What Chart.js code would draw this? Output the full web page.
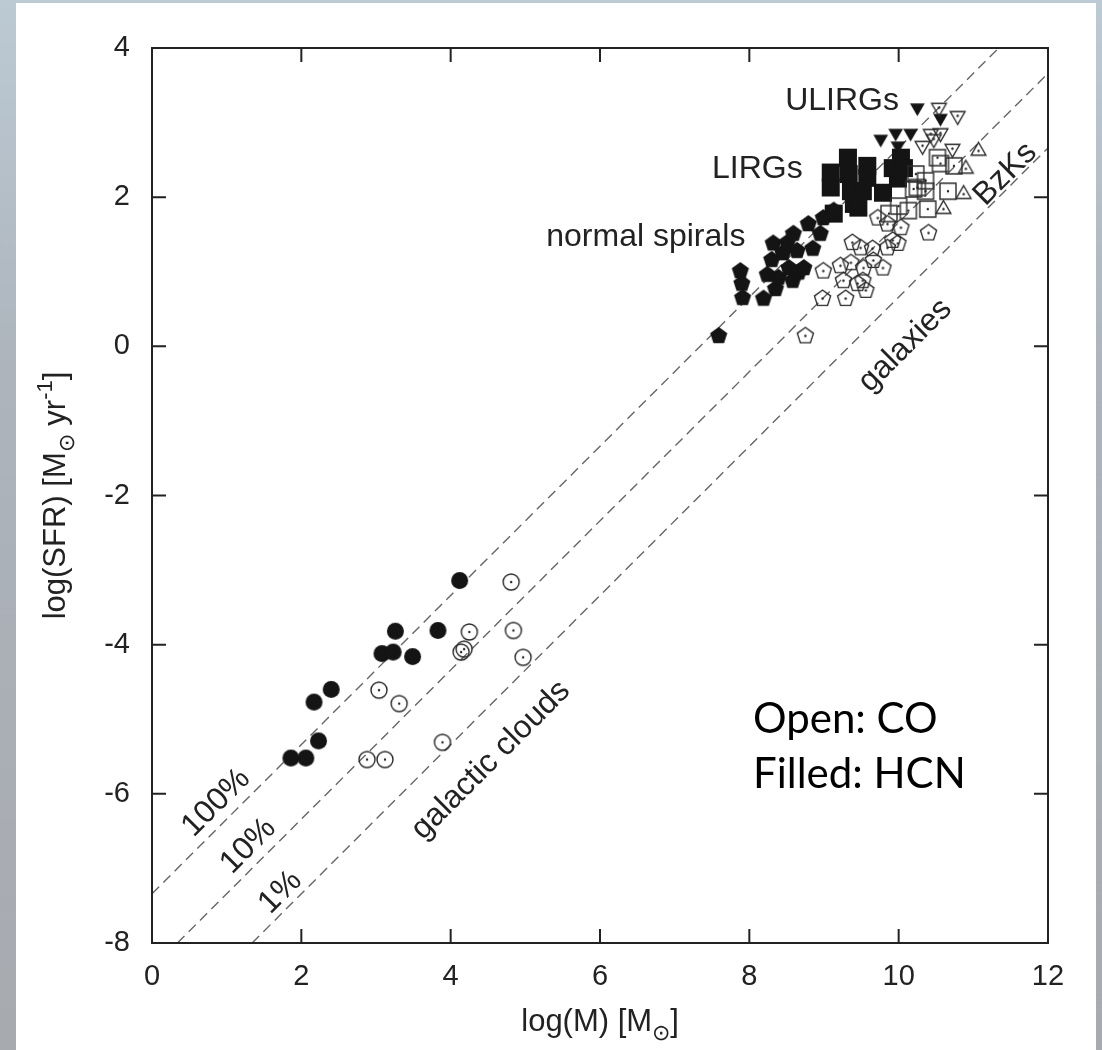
<!DOCTYPE html>
<html>
<head>
<meta charset="utf-8">
<script src="https://cdn.jsdelivr.net/npm/chart.js@4.4.1/dist/chart.umd.min.js"></script>
<style>
  html, body { margin: 0; padding: 0; }
  body {
    width: 1102px; height: 1050px; overflow: hidden; position: relative;
    background: linear-gradient(180deg, #bccad4 0%, #adb4bc 35%, #a7aaaf 100%);
  }
  #panel { position: absolute; left: 16px; top: 3px; width: 1080px; height: 1047px; background: #fff; }
  #sfrCanvas { position: absolute; left: 0; top: 0; }
</style>
</head>
<body>
<div id="panel"></div>
<canvas id="sfrCanvas" width="1102" height="1050"></canvas>
<script>
// tick values
const xTickValues = [0, 2, 4, 6, 8, 10, 12];
const yTickValues = [-8, -6, -4, -2, 0, 2, 4];

// galactic clouds
const cloudsHcnX = [1.86, 2.06, 2.23, 2.17, 2.40, 3.08, 3.23, 3.26, 3.49, 3.83, 4.12];
const cloudsHcnY = [-5.52, -5.52, -5.29, -4.77, -4.60, -4.12, -4.10, -3.82, -4.16, -3.81, -3.14];
const cloudsCoX = [2.88, 3.12, 3.89, 3.04, 3.31, 4.14, 4.18, 4.25, 4.84, 4.97, 4.81];
const cloudsCoY = [-5.54, -5.54, -5.31, -4.61, -4.79, -4.10, -4.06, -3.83, -3.81, -4.17, -3.16];

// normal spirals
const spiralsHcnX = [7.59, 7.88, 7.90, 7.91, 8.19, 8.24, 8.30, 8.32, 8.35, 8.39, 8.45, 8.51, 8.53, 8.58, 8.59, 8.64, 8.66, 8.73, 8.79, 8.85, 8.95, 8.99, 9.13];
const spiralsHcnY = [0.14, 1.01, 0.84, 0.65, 0.64, 0.96, 1.16, 1.38, 0.77, 0.92, 1.25, 1.39, 1.05, 0.88, 1.51, 1.28, 0.99, 1.05, 1.64, 1.31, 1.51, 1.72, 1.82];
const spiralsCoX = [8.75, 8.99, 8.98, 9.29, 9.26, 9.38, 9.49, 9.65, 9.66, 9.79, 9.53, 9.52, 9.56, 9.45, 9.85, 9.99, 10.03, 9.85, 9.72, 9.92, 10.40, 9.36, 9.22];
const spiralsCoY = [0.14, 1.01, 0.64, 0.64, 0.88, 1.39, 1.32, 1.31, 1.15, 1.05, 1.05, 0.88, 0.75, 0.84, 1.32, 1.38, 1.59, 1.64, 1.72, 1.42, 1.52, 1.12, 1.08];

// LIRGs
const lirgsHcnX = [9.09, 9.09, 9.32, 9.33, 9.36, 9.40, 9.13, 9.58, 9.58, 9.52, 9.46, 9.79, 9.92, 10.03, 10.07, 9.99];
const lirgsHcnY = [2.33, 2.13, 2.53, 2.31, 2.08, 1.91, 1.78, 2.42, 2.26, 2.08, 1.86, 2.06, 2.39, 2.53, 2.39, 2.25];
const lirgsCoX = [10.52, 10.56, 10.74, 10.23, 10.25, 10.36, 10.20, 10.66, 9.87, 10.00, 10.13, 10.39, 10.36];
const lirgsCoY = [2.53, 2.45, 2.42, 2.31, 2.13, 2.08, 2.11, 2.08, 1.78, 1.88, 1.82, 1.84, 2.22];

// ULIRGs
const ulirgsHcnX = [10.25, 10.56, 9.76, 9.96, 10.16, 9.99];
const ulirgsHcnY = [3.20, 3.06, 2.78, 2.86, 2.86, 2.69];
const ulirgsCoX = [10.54, 10.79, 10.43, 10.56, 10.32, 10.72, 10.47];
const ulirgsCoY = [3.20, 3.09, 2.85, 2.86, 2.69, 2.65, 2.78];

// BzK galaxies
const bzkCoX = [11.07, 10.90, 10.87, 10.60];
const bzkCoY = [2.62, 2.38, 2.04, 1.84];

// star formation efficiency lines (end points)
const line100X = [0, 11.34];
const line100Y = [-7.34, 4];
const line10X = [0.34, 12];
const line10Y = [-8, 3.66];
const line1X = [1.34, 12];
const line1Y = [-8, 2.66];

const annotations = [
  { text: "ULIRGs", x: 8.48, y: 3.17, angle: 0, align: "left" },
  { text: "LIRGs", x: 7.50, y: 2.26, angle: 0, align: "left" },
  { text: "normal spirals", x: 5.28, y: 1.35, angle: 0, align: "left" },
  { text: "100%", x: 0.86, y: -6.12, angle: -45, align: "center" },
  { text: "10%", x: 1.29, y: -6.70, angle: -45, align: "center" },
  { text: "1%", x: 1.72, y: -7.32, angle: -45, align: "center" },
  { text: "galactic clouds", x: 4.54, y: -5.55, angle: -45, align: "center" },
  { text: "galaxies", x: 10.09, y: 0.01, angle: -45, align: "center" },
  { text: "BzKs", x: 11.43, y: 2.31, angle: -45, align: "center" }
];

const sansFont = "'Liberation Sans', Arial, Helvetica, sans-serif";

function toPoints(xs, ys) {
  return xs.map((x, i) => ({ x: x, y: ys[i] }));
}

function makeMarker(shape, size, filled) {
  const pad = 3;
  const c = document.createElement("canvas");
  c.width = size + pad * 2;
  c.height = size + pad * 2;
  const g = c.getContext("2d");
  const cx = c.width / 2, cy = c.height / 2, r = size / 2;
  g.beginPath();
  if (shape == "circle") {
    g.arc(cx, cy, r, 0, Math.PI * 2);
  } else if (shape == "square") {
    g.rect(cx - r, cy - r, size, size);
  } else {
    let n = 3, start = Math.PI / 2;
    if (shape == "pentagon") { n = 5; start = -Math.PI / 2; }
    if (shape == "triUp") start = -Math.PI / 2;
    for (let k = 0; k < n; k++) {
      const a = start + k * 2 * Math.PI / n;
      const px = cx + r * Math.cos(a), py = cy + r * Math.sin(a);
      if (k == 0) g.moveTo(px, py); else g.lineTo(px, py);
    }
    g.closePath();
  }
  if (filled) {
    g.fillStyle = "#141414";
    g.fill();
  } else {
    g.strokeStyle = "#2a2a2a";
    g.lineWidth = 1.4;
    g.stroke();
    g.beginPath();
    g.arc(cx, cy, 1.2, 0, Math.PI * 2);
    g.fillStyle = "#222";
    g.fill();
  }
  return c;
}

function pointSet(label, xs, ys, marker) {
  return {
    label: label,
    data: toPoints(xs, ys),
    pointStyle: marker,
    pointRadius: 9,
    showLine: false
  };
}

function lineSet(label, xs, ys) {
  return {
    label: label,
    data: toPoints(xs, ys),
    showLine: true,
    borderColor: "#666",
    borderWidth: 1.4,
    borderDash: [10, 6],
    pointRadius: 0,
    fill: false
  };
}

// frame with inward ticks on all four sides
const framePlugin = {
  id: "frame",
  afterDraw(chart) {
    const ctx = chart.ctx;
    const a = chart.chartArea;
    const xs = chart.scales.x, ys = chart.scales.y;
    ctx.save();
    ctx.strokeStyle = "#222";
    ctx.lineWidth = 2;
    ctx.strokeRect(a.left, a.top, a.right - a.left, a.bottom - a.top);
    ctx.beginPath();
    xTickValues.forEach(v => {
      const px = xs.getPixelForValue(v);
      ctx.moveTo(px, a.bottom); ctx.lineTo(px, a.bottom - 14);
      ctx.moveTo(px, a.top); ctx.lineTo(px, a.top + 14);
    });
    yTickValues.forEach(v => {
      const py = ys.getPixelForValue(v);
      ctx.moveTo(a.left, py); ctx.lineTo(a.left + 14, py);
      ctx.moveTo(a.right, py); ctx.lineTo(a.right - 14, py);
    });
    ctx.stroke();
    ctx.restore();
  }
};

function drawRuns(ctx, runs, size) {
  let total = 0;
  runs.forEach(r => {
    ctx.font = Math.round(size * (r.scale || 1)) + "px " + sansFont;
    r.w = ctx.measureText(r.text).width;
    total += r.w;
  });
  let x = -total / 2;
  runs.forEach(r => {
    ctx.font = Math.round(size * (r.scale || 1)) + "px " + sansFont;
    ctx.fillText(r.text, x, (r.shift || 0) * size);
    x += r.w;
  });
}

const textPlugin = {
  id: "texts",
  afterDraw(chart) {
    const ctx = chart.ctx;
    const xs = chart.scales.x, ys = chart.scales.y;
    const a = chart.chartArea;
    ctx.save();
    ctx.fillStyle = "#222";
    annotations.forEach(t => {
      ctx.save();
      ctx.translate(xs.getPixelForValue(t.x), ys.getPixelForValue(t.y));
      ctx.rotate(t.angle * Math.PI / 180);
      ctx.font = "32px " + sansFont;
      ctx.textAlign = t.align;
      ctx.textBaseline = t.angle == 0 ? "alphabetic" : "middle";
      ctx.fillText(t.text, 0, 0);
      ctx.restore();
    });

    // axis titles
    ctx.textAlign = "left";
    ctx.textBaseline = "alphabetic";
    ctx.save();
    ctx.translate((a.left + a.right) / 2, 1031);
    drawRuns(ctx, [
      { text: "log(M) [M" },
      { text: "\u2299", scale: 0.7, shift: 0.28 },
      { text: "]" }
    ], 31);
    ctx.restore();

    ctx.save();
    ctx.translate(65, (a.top + a.bottom) / 2);
    ctx.rotate(-Math.PI / 2);
    drawRuns(ctx, [
      { text: "log(SFR) [M" },
      { text: "\u2299", scale: 0.7, shift: 0.28 },
      { text: " yr" },
      { text: "-1", scale: 0.7, shift: -0.42 },
      { text: "]" }
    ], 31);
    ctx.restore();

    // open / filled note
    ctx.fillStyle = "#000";
    ctx.font = "42px Lato, 'Open Sans', sans-serif";
    ctx.fillText("Open: CO", 753, 733);
    ctx.fillText("Filled: HCN", 753, 788);
    ctx.restore();
  }
};

const tickFont = { family: sansFont, size: 29 };

const sfrChart = new Chart("sfrCanvas", {
  type: "scatter",
  data: {
    datasets: [
      pointSet("clouds CO", cloudsCoX, cloudsCoY, makeMarker("circle", 16, false)),
      pointSet("spirals CO", spiralsCoX, spiralsCoY, makeMarker("pentagon", 17, false)),
      pointSet("LIRGs CO", lirgsCoX, lirgsCoY, makeMarker("square", 16, false)),
      pointSet("ULIRGs CO", ulirgsCoX, ulirgsCoY, makeMarker("triDown", 17, false)),
      pointSet("BzKs CO", bzkCoX, bzkCoY, makeMarker("triUp", 17, false)),
      pointSet("clouds HCN", cloudsHcnX, cloudsHcnY, makeMarker("circle", 17, true)),
      pointSet("spirals HCN", spiralsHcnX, spiralsHcnY, makeMarker("pentagon", 18, true)),
      pointSet("LIRGs HCN", lirgsHcnX, lirgsHcnY, makeMarker("square", 18, true)),
      pointSet("ULIRGs HCN", ulirgsHcnX, ulirgsHcnY, makeMarker("triDown", 17, true)),
      lineSet("100%", line100X, line100Y),
      lineSet("10%", line10X, line10Y),
      lineSet("1%", line1X, line1Y)
    ]
  },
  options: {
    responsive: false,
    animation: false,
    layout: { padding: { left: 0, top: 48, right: 54, bottom: 0 } },
    plugins: {
      legend: { display: false },
      tooltip: { enabled: false }
    },
    scales: {
      x: {
        type: "linear", min: 0, max: 12,
        afterBuildTicks: s => { s.ticks = xTickValues.map(v => ({ value: v })); },
        afterFit: s => { s.height = 107; },
        ticks: { font: tickFont, color: "#222", padding: 17, maxRotation: 0 },
        grid: { display: false, drawTicks: false },
        border: { display: false }
      },
      y: {
        type: "linear", min: -8, max: 4,
        afterBuildTicks: s => { s.ticks = yTickValues.map(v => ({ value: v })); },
        afterFit: s => { s.width = 152; },
        ticks: { font: tickFont, color: "#222", padding: 22 },
        grid: { display: false, drawTicks: false },
        border: { display: false }
      }
    }
  },
  plugins: [framePlugin, textPlugin]
});
</script>
</body>
</html>
